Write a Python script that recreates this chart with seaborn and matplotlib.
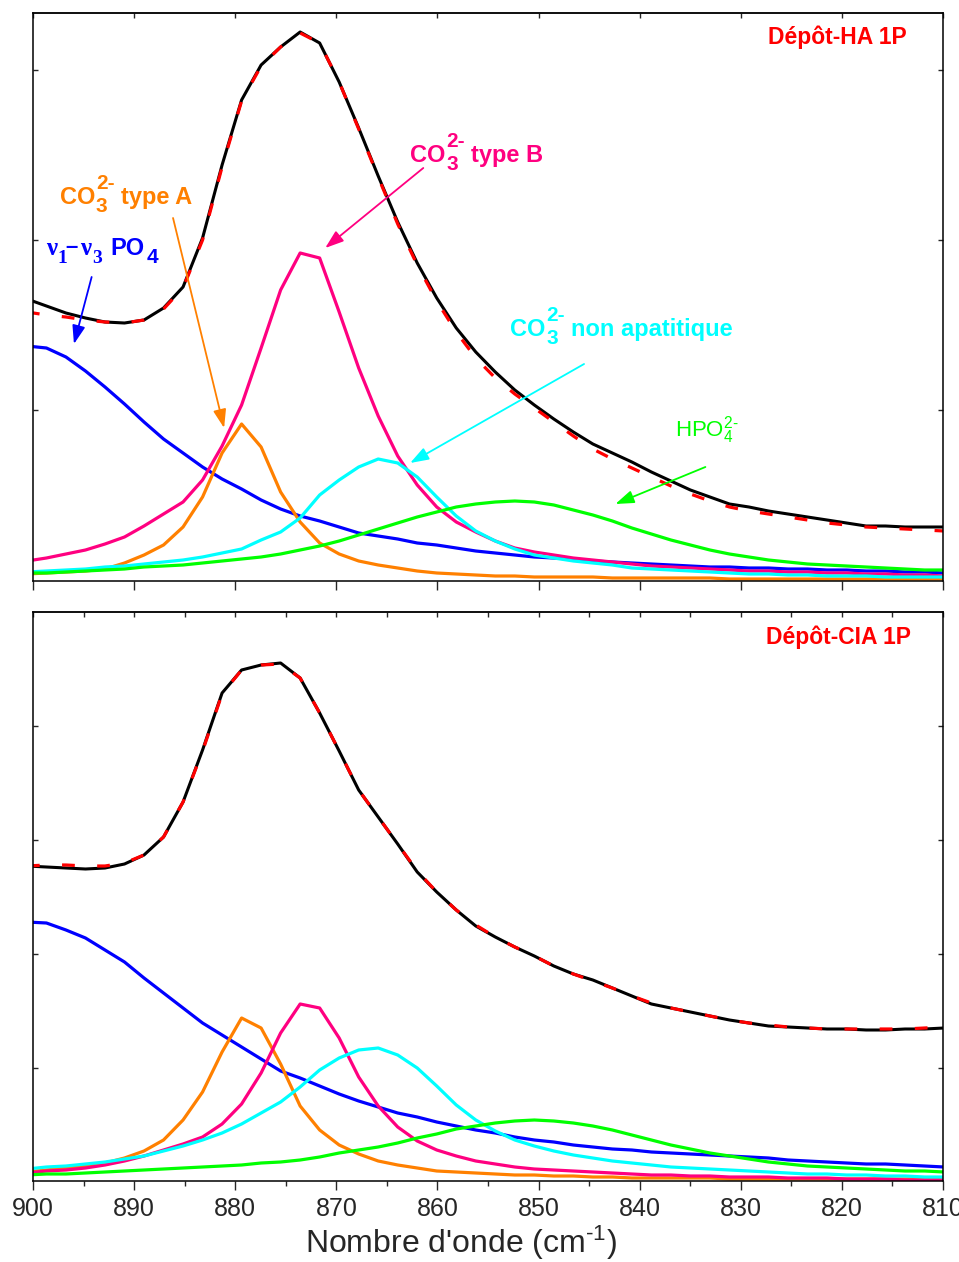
import matplotlib
matplotlib.use("Agg")
import matplotlib.pyplot as plt
import seaborn as sns
import numpy as np

# ---------------- data ----------------
wavenumber = [900.60, 898.67, 896.74, 894.81, 892.88, 890.95, 889.02, 887.09, 885.16, 883.23,
              881.30, 879.37, 877.44, 875.51, 873.58, 871.65, 869.72, 867.79, 865.86, 863.93,
              862.00, 860.07, 858.14, 856.21, 854.28, 852.35, 850.42, 848.49, 846.56, 844.63,
              842.70, 840.77, 838.84, 836.91, 834.98, 833.05, 831.12, 829.19, 827.26, 825.33,
              823.40, 821.47, 819.54, 817.61, 815.68, 813.75, 811.82, 809.89]

# Dépôt-HA 1P (arbitrary absorbance units)
ha_exp = [282, 275, 268, 263, 259, 258, 261, 273, 294, 343, 416, 481, 516, 534, 549, 538, 499, 453, 405, 359,
          318, 283, 253, 229, 209, 191, 176, 162, 149, 137, 128, 119, 109, 100, 91, 84, 77, 74, 70, 67,
          64, 61, 58, 55, 55, 54, 54, 54]
ha_fit = [269, 266, 264, 261, 259, 258, 261, 272, 293, 341, 414, 480, 515, 534, 548, 538, 499, 452, 404, 357,
          316, 280, 249, 223, 203, 187, 173, 159, 145, 132, 122, 113, 104, 95, 87, 80, 74, 70, 67, 64,
          61, 58, 56, 54, 53, 52, 51, 50]
ha_po4 = [235, 233, 224, 210, 194, 177, 159, 142, 128, 114, 102, 92, 81, 72, 65, 60, 54, 48, 45, 42,
          38, 36, 33, 30, 28, 26, 24, 23, 22, 20, 19, 18, 17, 16, 15, 14, 14, 13, 13, 12,
          12, 11, 11, 10, 10, 9, 9, 8]
ha_typeA = [7, 8, 9, 10, 12, 18, 26, 36, 54, 84, 128, 157, 134, 89, 59, 38, 27, 20, 16, 13,
            10, 8, 7, 6, 5, 5, 4, 4, 4, 4, 3, 3, 3, 3, 3, 3, 2, 2, 2, 2,
            2, 2, 2, 2, 2, 2, 2, 2]
ha_typeB = [20, 23, 27, 31, 37, 44, 55, 67, 79, 101, 135, 176, 233, 291, 328, 323, 269, 213, 165, 125,
            96, 74, 59, 49, 40, 33, 29, 26, 23, 21, 19, 17, 15, 14, 13, 12, 11, 10, 10, 9,
            9, 8, 8, 7, 7, 6, 6, 5]
ha_nonap = [9, 10, 11, 12, 14, 15, 17, 19, 21, 24, 28, 32, 41, 49, 63, 86, 101, 114, 122, 118,
            104, 84, 65, 50, 40, 32, 26, 23, 20, 18, 16, 13, 12, 11, 10, 9, 8, 7, 7, 6,
            6, 5, 5, 5, 4, 4, 4, 4]
ha_hpo4 = [8, 8, 9, 10, 11, 12, 14, 15, 16, 18, 20, 22, 24, 27, 31, 35, 40, 46, 52, 58,
           64, 69, 74, 77, 79, 80, 79, 76, 71, 66, 60, 53, 47, 41, 36, 31, 27, 24, 21, 19,
           17, 16, 15, 14, 13, 12, 11, 11]

# Dépôt-CIA 1P
cia_exp = [315, 314, 313, 312, 313, 317, 326, 344, 379, 431, 488, 511, 516, 518, 503, 468, 430, 391, 364, 337,
           309, 289, 271, 255, 244, 234, 225, 215, 207, 201, 193, 185, 177, 173, 169, 165, 161, 158, 155, 154,
           153, 152, 152, 151, 151, 152, 152, 153]
cia_fit = [315, 316, 316, 315, 315, 318, 326, 344, 379, 430, 487, 511, 516, 517, 503, 468, 430, 391, 364, 337,
           310, 289, 271, 256, 244, 234, 225, 215, 207, 200, 193, 185, 178, 173, 169, 165, 161, 158, 156, 154,
           153, 152, 152, 152, 152, 152, 153, 154]
cia_po4 = [259, 258, 251, 243, 231, 219, 203, 188, 173, 158, 146, 134, 122, 110, 103, 95, 87, 80, 74, 68,
           64, 59, 55, 51, 48, 44, 41, 39, 36, 34, 32, 31, 29, 28, 27, 26, 25, 24, 23, 21,
           20, 19, 18, 17, 17, 16, 15, 14]
cia_typeA = [9, 11, 13, 15, 18, 23, 30, 41, 61, 89, 129, 163, 153, 117, 75, 51, 36, 27, 20, 16,
             13, 10, 9, 8, 7, 6, 6, 5, 5, 4, 4, 3, 3, 3, 3, 3, 2, 2, 2, 2,
             2, 2, 2, 2, 2, 2, 2, 2]
cia_typeB = [8, 10, 11, 13, 16, 20, 25, 31, 37, 44, 57, 77, 108, 148, 177, 173, 143, 104, 75, 54,
             40, 31, 25, 20, 17, 14, 12, 11, 10, 9, 8, 7, 6, 6, 5, 5, 4, 4, 4, 3,
             3, 3, 2, 2, 2, 1, 1, 1]
cia_nonap = [12, 14, 15, 17, 19, 22, 25, 30, 35, 41, 48, 57, 68, 79, 94, 111, 123, 131, 133, 126,
             113, 95, 76, 61, 50, 41, 35, 30, 26, 23, 20, 18, 16, 14, 13, 12, 11, 10, 9, 8,
             7, 7, 6, 6, 5, 5, 4, 4]
cia_hpo4 = [6, 7, 7, 8, 9, 10, 11, 12, 13, 14, 15, 16, 18, 19, 21, 24, 28, 31, 34, 38,
            43, 47, 52, 55, 58, 60, 61, 60, 58, 55, 51, 46, 41, 36, 32, 28, 25, 22, 19, 17,
            15, 14, 13, 12, 11, 10, 10, 9]

xtick_values = [900, 890, 880, 870, 860, 850, 840, 830, 820, 810]
xlabel_text = r"Nombre d'onde (cm$^{\text{-}1}$)"
title_ha = "Dépôt-HA 1P"
title_cia = "Dépôt-CIA 1P"

# ---------------- style ----------------
sns.set_style("ticks")
plt.rcParams['font.family'] = ['Liberation Sans', 'DejaVu Sans']
plt.rcParams['mathtext.fontset'] = 'custom'
plt.rcParams['mathtext.rm'] = 'Liberation Sans'
plt.rcParams['mathtext.it'] = 'Liberation Sans:italic'
plt.rcParams['mathtext.bf'] = 'Liberation Sans:bold'
plt.rcParams['mathtext.sf'] = 'Liberation Sans'

C_BLUE = '#0000FF'
C_ORANGE = '#FF8000'
C_PINK = '#FF0080'
C_CYAN = '#00FFFF'
C_GREEN = '#00FF00'
C_RED = '#FF0000'

fig = plt.figure(figsize=(9.59, 12.62), dpi=100)
ax1 = fig.add_axes([33/959, 1 - 581/1262, 910/959, 568/1262])
ax2 = fig.add_axes([33/959, 1 - 1181/1262, 910/959, 569/1262])


def draw_panel(ax, exp, fit, po4, tA, tB, nonap, hpo4):
    comps = [(po4, C_BLUE), (tA, C_ORANGE), (tB, C_PINK), (nonap, C_CYAN), (hpo4, C_GREEN)]
    for vals, col in comps:
        sns.lineplot(x=wavenumber, y=vals, ax=ax, color=col, linewidth=2.3,
                     sort=False, estimator=None, legend=False)
    sns.lineplot(x=wavenumber, y=exp, ax=ax, color='black', linewidth=2.2,
                 sort=False, estimator=None, legend=False)
    sns.lineplot(x=wavenumber, y=fit, ax=ax, color=C_RED, linewidth=2.3,
                 linestyle=(0, (4, 7)), sort=False, estimator=None, legend=False)
    ax.set_xlim(900, 810)
    ax.set_xlabel('')
    ax.set_ylabel('')
    for sp in ax.spines.values():
        sp.set_visible(True)
        sp.set_linewidth(1.1)
        sp.set_color('black')


draw_panel(ax1, ha_exp, ha_fit, ha_po4, ha_typeA, ha_typeB, ha_nonap, ha_hpo4)
draw_panel(ax2, cia_exp, cia_fit, cia_po4, cia_typeA, cia_typeB, cia_nonap, cia_hpo4)

ax1.set_ylim(0, 568)
ax2.set_ylim(0, 569)

# y ticks (inward, both sides, no labels)
ax1.set_yticks([171, 341, 511])
ax2.set_yticks([113, 227, 341, 455])
for ax in (ax1, ax2):
    ax.tick_params(axis='y', which='both', direction='in', left=True, right=True,
                   length=3.5, width=1.0, labelleft=False, labelright=False)

# x ticks
ax1.set_xticks(xtick_values)
ax1.tick_params(axis='x', which='major', direction='out', length=6.5, width=1.0,
                bottom=True, top=False, labelbottom=False)
ax2.set_xticks(xtick_values)
ax2.set_xticks(np.arange(895, 810, -10), minor=True)
ax2.tick_params(axis='x', which='major', direction='out', length=6.5, width=1.0,
                bottom=True, top=False, labelbottom=True, labelsize=18, pad=5)
ax2.tick_params(axis='x', which='minor', direction='out', length=3.5, width=1.0,
                bottom=True, top=False)

# top-edge ticks (inward)
sec1 = ax1.secondary_xaxis('top')
sec1.set_xticks(xtick_values)
sec1.tick_params(direction='in', length=3.5, width=1.0, labeltop=False)
sec1.spines['top'].set_linewidth(1.1)
sec2 = ax2.secondary_xaxis('top')
sec2.set_xticks(list(np.arange(900, 809, -5)))
sec2.tick_params(direction='in', length=3.5, width=1.0, labeltop=False)
sec2.spines['top'].set_linewidth(1.1)

# panel titles
ax1.text(813.6, 544, title_ha, color=C_RED, fontsize=16.5, fontweight='bold',
         ha='right', va='center')
ax2.text(813.2, 544, title_cia, color=C_RED, fontsize=16.5, fontweight='bold',
         ha='right', va='center')

SANS = 'Liberation Sans'
SERIF = 'Liberation Serif'


def rich(ax, x, y, pieces, color):
    """pieces: (text, dx_px, dy_px, size, family) relative to (x, y) baseline."""
    for txt, dx, dy, size, fam in pieces:
        ax.annotate(txt, xy=(x, y), xycoords='data',
                    xytext=(dx * 0.72, dy * 0.72), textcoords='offset points',
                    ha='left', va='baseline', fontsize=size, fontweight='bold',
                    family=fam, color=color)


def co3_pieces(rest):
    return [("CO", 0, 0, 17, SANS),
            ("3", 36, -8, 15, SANS),
            ("2-", 36, 15, 15, SANS),
            (rest, 61, 0, 17, SANS)]


rich(ax1, 897.33, 377, co3_pieces("type A"), C_ORANGE)
rich(ax1, 862.71, 419, co3_pieces("type B"), C_PINK)
rich(ax1, 852.82, 245, co3_pieces("non apatitique"), C_CYAN)
rich(ax1, 898.81, 326, [("ν", 1, 0, 18, SERIF),
                        ("1", 12, -8, 14, SERIF),
                        ("–", 20, 2, 16, SANS),
                        ("ν", 35, 0, 18, SERIF),
                        ("3", 47, -8, 14, SERIF),
                        ("PO", 65, 0, 17, SANS),
                        ("4", 102, -8, 15, SANS)], C_BLUE)
ax1.text(836.5, 144, r'HPO$_4^{2\text{-}}$', color=C_GREEN,
         fontsize=16, ha='left', va='baseline')


def arrow(ax, start, tip, col):
    ax.annotate('', xy=tip, xytext=start,
                arrowprops=dict(arrowstyle='-|>,head_length=0.8,head_width=0.28',
                                color=col, lw=1.3, shrinkA=0, shrinkB=0,
                                mutation_scale=14))


arrow(ax1, (894.2, 304), (895.95, 237), C_BLUE)
arrow(ax1, (886.15, 363), (881.1, 153), C_ORANGE)
arrow(ax1, (861.4, 413), (871.1, 333), C_PINK)
arrow(ax1, (845.5, 217), (862.7, 118), C_CYAN)
arrow(ax1, (833.5, 114), (842.4, 77), C_GREEN)

fig.text(461/959, 1 - 1253/1262, xlabel_text, fontsize=23, ha='center', va='baseline')

fig.savefig('out.png', dpi=100)
